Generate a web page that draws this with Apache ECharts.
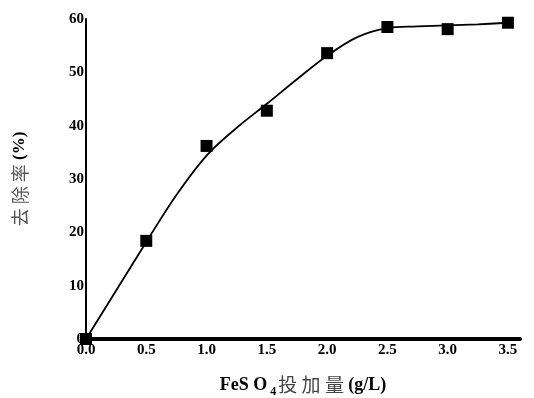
<!DOCTYPE html>
<html>
<head>
<meta charset="utf-8">
<script src="https://cdn.jsdelivr.net/npm/echarts@6/dist/echarts.min.js"></script>
<style>
  html, body { margin: 0; padding: 0; background: #fff; }
  #chart { width: 534px; height: 398px; }
</style>
</head>
<body>
<div id="chart"></div>
<script>
// measured points (dose g/L, removal %)
const doses = [0, 0.5, 1.0, 1.5, 2.0, 2.5, 3.0, 3.5]
const removal = [0, 18.4, 36.2, 42.8, 53.6, 58.5, 58.1, 59.3]

// fitted curve
const fitX = [0, 0.25, 0.5, 0.75, 1.0, 1.25, 1.5, 1.75, 2.0, 2.25, 2.5, 2.75, 3.0, 3.25, 3.5]
const fitY = [0, 9.1, 18.2, 27, 34.4, 39.6, 44.1, 48.7, 53.1, 56.6, 58.3, 58.6, 58.8, 59.0, 59.3]

const xTicks = ['0.0', '0.5', '1.0', '1.5', '2.0', '2.5', '3.0', '3.5']

const serif = '"Liberation Serif", "DejaVu Serif", serif'
const cjk = '"Noto Sans CJK SC", sans-serif'

const chart = echarts.init(document.getElementById('chart'))

const option = {
  animation: false,
  grid: { left: 86, right: 14, top: 19, bottom: 59, containLabel: false, outerBoundsMode: 'none' },
  xAxis: {
    type: 'value',
    min: 0,
    max: 3.6,
    interval: 0.5,
    splitLine: { show: false },
    axisTick: { show: false },
    axisLine: { lineStyle: { color: '#000', width: 4 } },
    axisLabel: {
      showMaxLabel: false,
      margin: 4,
      color: '#000',
      fontFamily: serif,
      fontWeight: 'bold',
      fontSize: 15,
      formatter: v => xTicks[Math.round(v / 0.5)] || ''
    },
    name: '{b|FeS O}{sub| 4}{c|投 加 量 }{b|(g/L)}',
    nameLocation: 'middle',
    nameGap: 33,
    nameTextStyle: {
      rich: {
        b: { fontFamily: serif, fontWeight: 'bold', fontSize: 18, color: '#000' },
        sub: { fontFamily: serif, fontWeight: 'bold', fontSize: 12, color: '#000', verticalAlign: 'bottom', padding: [14, 2, 0, 0] },
        c: { fontFamily: cjk, fontSize: 19, color: '#444' }
      }
    }
  },
  yAxis: {
    type: 'value',
    min: 0,
    max: 60,
    interval: 10,
    splitLine: { show: false },
    axisTick: { show: false },
    axisLine: { lineStyle: { color: '#000', width: 2 } },
    axisLabel: {
      margin: 2,
      color: '#000',
      fontFamily: serif,
      fontWeight: 'bold',
      fontSize: 15
    },
    name: '{c|去 除 率}{b| (%)}',
    nameLocation: 'middle',
    nameRotate: 90,
    nameGap: 57,
    nameTextStyle: {
      rich: {
        b: { fontFamily: serif, fontWeight: 'bold', fontSize: 17, color: '#000' },
        c: { fontFamily: cjk, fontSize: 18, color: '#555' }
      }
    }
  },
  series: [
    {
      type: 'line',
      data: fitX.map((x, i) => [x, fitY[i]]),
      smooth: 0.35,
      symbol: 'none',
      lineStyle: { color: '#000', width: 1.8 },
      z: 2
    },
    {
      type: 'scatter',
      data: doses.map((x, i) => [x, removal[i]]),
      symbol: 'rect',
      symbolSize: 12,
      itemStyle: { color: '#000', opacity: 1 },
      z: 3
    }
  ]
}

chart.setOption(option)
</script>
</body>
</html>
